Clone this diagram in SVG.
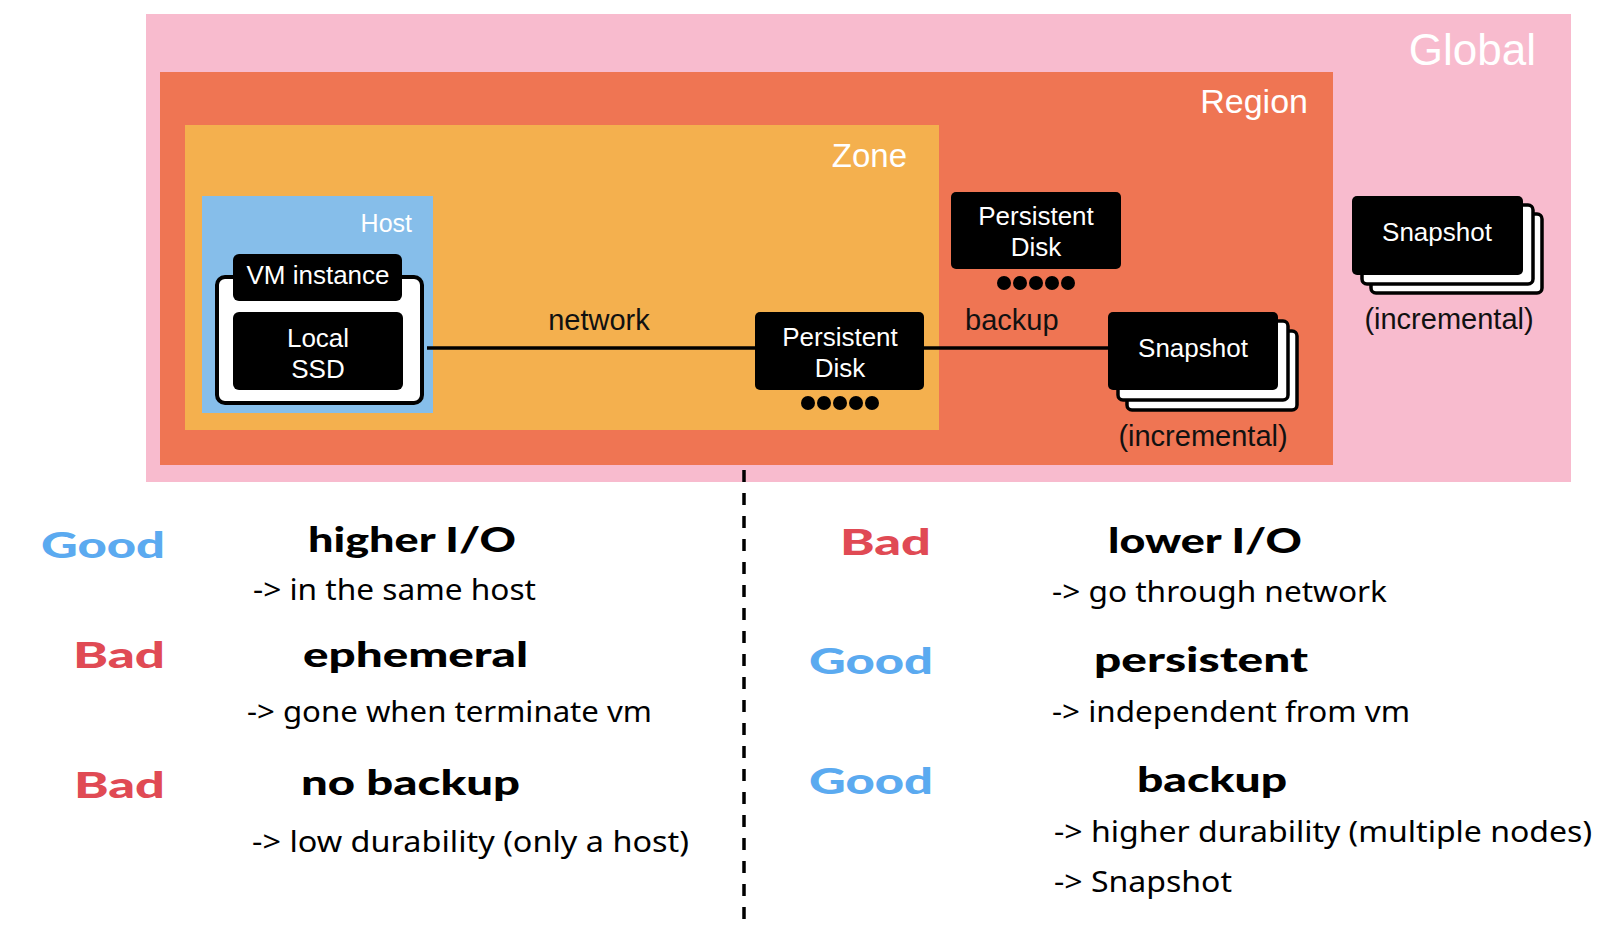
<svg xmlns="http://www.w3.org/2000/svg" width="1622" height="937" viewBox="0 0 1622 937">
<style>
.lbl{font-family:"Liberation Sans","Noto Sans",Arial,sans-serif;fill:#fff}
.box{fill:#000}
.card{fill:#fff;stroke:#000;stroke-width:3.5}
.wt{font-family:"Liberation Sans","Noto Sans",Arial,sans-serif;fill:#fff;font-size:26px;text-anchor:middle}
.bk{font-family:"Liberation Sans","Noto Sans",Arial,sans-serif;fill:#111;font-size:29px}
.hd{font-family:Lato,"DejaVu Sans",sans-serif;font-weight:900;font-size:35px;fill:#000}
.good{font-family:Lato,"DejaVu Sans",sans-serif;font-weight:900;font-size:36px;fill:#5BAAF0}
.bad{font-family:Lato,"DejaVu Sans",sans-serif;font-weight:900;font-size:36px;fill:#E04A54}
.tx{font-family:"Noto Sans","Open Sans",sans-serif;font-size:29px;fill:#000}
.dot{fill:#000}
</style>
<rect width="1622" height="937" fill="#fff"/>
<g id="global">
<rect x="146" y="14" width="1425" height="468" fill="#F8BBCE"/>
<text class="lbl" x="1536" y="65" font-size="44" text-anchor="end">Global</text>
</g>
<g id="region">
<rect x="160" y="72" width="1173" height="393" fill="#EF7553"/>
<text class="lbl" x="1308" y="113" font-size="34" text-anchor="end">Region</text>
</g>
<g id="zone">
<rect x="185" y="125" width="754" height="305" fill="#F4B04E"/>
<text class="lbl" x="907" y="167" font-size="33" text-anchor="end">Zone</text>
</g>
<g id="host">
<rect x="202" y="196" width="231" height="217" fill="#86BEEA"/>
<text class="lbl" x="412" y="232" font-size="25" text-anchor="end">Host</text>
</g>
<g id="connectors">
<line x1="427" y1="348" x2="760" y2="348" stroke="#000" stroke-width="3.5"/>
<line x1="920" y1="348" x2="1110" y2="348" stroke="#000" stroke-width="3.5"/>
<text class="bk" x="599" y="330" text-anchor="middle">network</text>
<text class="bk" x="965" y="330">backup</text>
<line x1="744" y1="470" x2="744" y2="922" stroke="#000" stroke-width="3.5" stroke-dasharray="12 11"/>
</g>
<g id="vm-instance">
<rect x="217" y="277" width="205" height="126" rx="8" fill="#fff" stroke="#000" stroke-width="4"/>
<rect class="box" x="233" y="254" width="169" height="47" rx="6"/>
<text class="wt" x="318" y="284" font-size="24">VM instance</text>
</g>
<g id="local-ssd">
<rect class="box" x="233" y="312" width="170" height="78" rx="6"/>
<text class="wt" x="318" y="347">Local</text>
<text class="wt" x="318" y="378">SSD</text>
</g>
<g id="persistent-disk-zone">
<rect class="box" x="755" y="312" width="169" height="78" rx="5"/>
<text class="wt" x="840" y="346">Persistent</text>
<text class="wt" x="840" y="377">Disk</text>
<circle class="dot" cx="808" cy="403" r="7"/><circle class="dot" cx="824" cy="403" r="7"/><circle class="dot" cx="840" cy="403" r="7"/><circle class="dot" cx="856" cy="403" r="7"/><circle class="dot" cx="872" cy="403" r="7"/>
</g>
<g id="persistent-disk-region">
<rect class="box" x="951" y="192" width="170" height="77" rx="5"/>
<text class="wt" x="1036" y="225">Persistent</text>
<text class="wt" x="1036" y="256">Disk</text>
<circle class="dot" cx="1004" cy="283" r="7"/><circle class="dot" cx="1020" cy="283" r="7"/><circle class="dot" cx="1036" cy="283" r="7"/><circle class="dot" cx="1052" cy="283" r="7"/><circle class="dot" cx="1068" cy="283" r="7"/>
</g>
<g id="snapshot-region">
<rect class="card" x="1127" y="331" width="170" height="79" rx="5"/>
<rect class="card" x="1118" y="321" width="170" height="79" rx="5"/>
<rect class="box" x="1108" y="312" width="170" height="78" rx="5"/>
<text class="wt" x="1193" y="357" font-size="27">Snapshot</text>
<text class="bk" x="1203" y="446" text-anchor="middle">(incremental)</text>
</g>
<g id="snapshot-global">
<rect class="card" x="1371" y="214" width="171" height="79" rx="5"/>
<rect class="card" x="1362" y="205" width="171" height="79" rx="5"/>
<rect class="box" x="1352" y="196" width="171" height="79" rx="5"/>
<text class="wt" x="1437" y="241" font-size="27">Snapshot</text>
<text class="bk" x="1449" y="329" text-anchor="middle">(incremental)</text>
</g>
<g id="local-ssd-notes">
<text class="good" x="41" y="558" textLength="124" lengthAdjust="spacingAndGlyphs">Good</text>
<text class="hd" x="308" y="552" textLength="208" lengthAdjust="spacingAndGlyphs">higher I/O</text>
<text class="tx" x="253" y="600" textLength="283" lengthAdjust="spacingAndGlyphs">-&gt; in the same host</text>
<text class="bad" x="73" y="668" textLength="92" lengthAdjust="spacingAndGlyphs">Bad</text>
<text class="hd" x="303" y="667" textLength="225" lengthAdjust="spacingAndGlyphs">ephemeral</text>
<text class="tx" x="247" y="722" textLength="405" lengthAdjust="spacingAndGlyphs">-&gt; gone when terminate vm</text>
<text class="bad" x="74" y="798" textLength="91" lengthAdjust="spacingAndGlyphs">Bad</text>
<text class="hd" x="301" y="795" textLength="219" lengthAdjust="spacingAndGlyphs">no backup</text>
<text class="tx" x="252" y="852" textLength="437" lengthAdjust="spacingAndGlyphs">-&gt; low durability (only a host)</text>
</g>
<g id="persistent-disk-notes">
<text class="bad" x="840" y="555" textLength="91" lengthAdjust="spacingAndGlyphs">Bad</text>
<text class="hd" x="1108" y="553" textLength="194" lengthAdjust="spacingAndGlyphs">lower I/O</text>
<text class="tx" x="1052" y="602" textLength="335" lengthAdjust="spacingAndGlyphs">-&gt; go through network</text>
<text class="good" x="809" y="674" textLength="124" lengthAdjust="spacingAndGlyphs">Good</text>
<text class="hd" x="1094" y="672" textLength="214" lengthAdjust="spacingAndGlyphs">persistent</text>
<text class="tx" x="1052" y="722" textLength="358" lengthAdjust="spacingAndGlyphs">-&gt; independent from vm</text>
<text class="good" x="809" y="794" textLength="124" lengthAdjust="spacingAndGlyphs">Good</text>
<text class="hd" x="1137" y="792" textLength="150" lengthAdjust="spacingAndGlyphs">backup</text>
<text class="tx" x="1054" y="842" textLength="538" lengthAdjust="spacingAndGlyphs">-&gt; higher durability (multiple nodes)</text>
<text class="tx" x="1054" y="892" textLength="178" lengthAdjust="spacingAndGlyphs">-&gt; Snapshot</text>
</g>
</svg>
